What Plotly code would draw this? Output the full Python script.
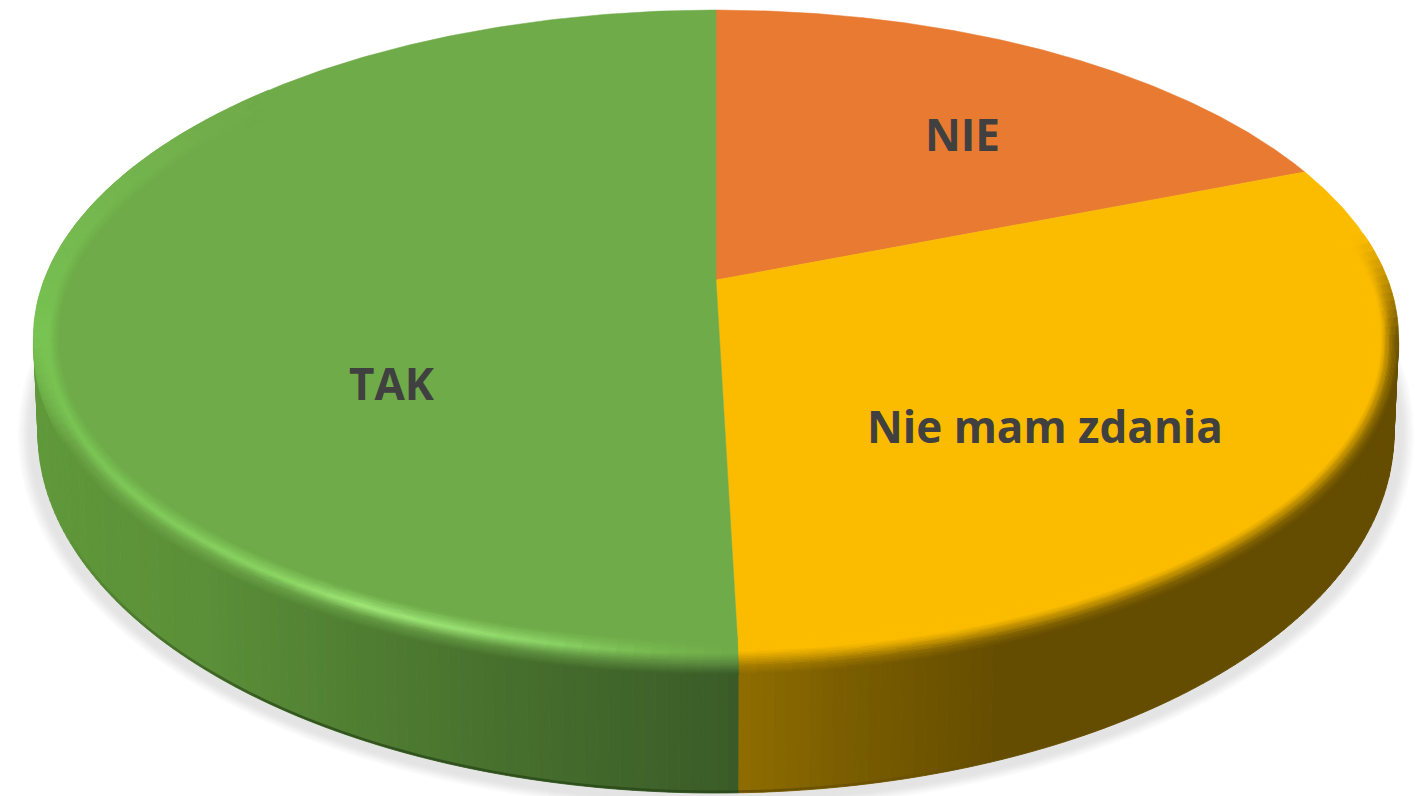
import numpy as np
import plotly.graph_objects as go

# ---- data (percent, clockwise from 12 o'clock) ----
categories = ["NIE", "Nie mam zdania", "TAK"]
values = [19.1, 30.45, 50.45]
face_colors = ["#E97A31", "#FBBC00", "#6FAB49"]
label_x = [962, 1045, 392]
label_y = [134, 426, 383]

# ---- drawing parameters ----
W, H = 1415, 796
CX = 716
TOP_CY, TOP_RX, TOP_RY = 337.5, 682.5, 327.5
BOT_CY, BOT_RX, BOT_RY = 433.0, 678.0, 360.0
APEX_Y = 280.0
K = 0.1757
A = TOP_RX * np.sqrt(1 - K ** 2)
B = TOP_RY * (1 - K ** 2)


def hex2rgb(h):
    return np.array([int(h[i:i + 2], 16) for i in (1, 3, 5)], dtype=float)


def lerp_stops(t, ts, cols):
    arr = np.array([hex2rgb(c) for c in cols])
    return np.array([np.interp(t, ts, arr[:, i]) for i in range(3)])


def to_hex(c, step=1):
    c = np.clip(np.round(np.asarray(c) / step) * step, 0, 255).astype(int)
    return "#%02x%02x%02x" % tuple(c)


def proj(theta, r=1.0):
    """perspective projection of a point on the tilted disc"""
    u, v = np.sin(theta), np.cos(theta)
    w = 1 + K * r * v
    return CX + A * r * u / w, APEX_Y - B * r * v / w


def ell(phi, cy, rx, ry, d=0.0):
    return CX + (rx - d) * np.cos(phi), cy + (ry - d) * np.sin(phi)


def green_side(x):
    return lerp_stops(x, [38, 200, 350, 500, 650, 738],
                      ["#60983A", "#5B8F38", "#507F32", "#47702D", "#3F632A", "#3A5B28"])


def yellow_side(x):
    return lerp_stops(x, [738, 850, 1000, 1400],
                      ["#8F6D00", "#7A5D00", "#654D00", "#654D00"])


def green_ridge(x):
    return lerp_stops(x, [38, 100, 280, 350, 450, 550, 650, 738],
                      ["#78C452", "#7EC958", "#8FD966", "#A0E878", "#9BE374", "#8CD566", "#78BA50", "#6FAB49"])


bins = {}


def add_poly(color, xs, ys):
    b = bins.setdefault(color, ([], []))
    b[0].extend(list(xs) + [xs[0], None])
    b[1].extend(list(ys) + [ys[0], None])


def flush(fig, width=0.6):
    for col, (xs, ys) in bins.items():
        fig.add_trace(go.Scatter(x=xs, y=ys, mode="lines", fill="toself", fillcolor=col,
                                 line=dict(color=col, width=width), hoverinfo="skip", showlegend=False))
    bins.clear()


fig = go.Figure()

# ---- soft shadow under the pie ----
for e in np.arange(22, -1, -2.0):
    t = np.clip((22 - e) / 13, 0, 1)
    c = lerp_stops(t, [0, 1], ["#FFFFFF", "#E4E4E4"])
    p = np.linspace(0, 2 * np.pi, 240)
    add_poly(to_hex(c), CX + (BOT_RX + e) * np.cos(p), BOT_CY + 2 + (BOT_RY + e * 0.75) * np.sin(p))
    flush(fig)

# ---- side wall, in narrow strips ----
frac = np.cumsum([0] + values) / np.sum(values)
phi_seam = np.arccos((proj(2 * np.pi * frac[2])[0] - CX) / TOP_RX)
step = np.radians(1.0)

for p0 in np.arange(phi_seam, np.pi, step):
    p1 = min(p0 + step, np.pi)
    x0, y0 = ell(p0, TOP_CY, TOP_RX, TOP_RY)
    x1, y1 = ell(p1, TOP_CY, TOP_RX, TOP_RY)
    x2, y2 = ell(p1, BOT_CY, BOT_RX, BOT_RY)
    x3, y3 = ell(p0, BOT_CY, BOT_RX, BOT_RY)
    add_poly(to_hex(green_side((x0 + x1) / 2)), [x0, x1, x2, x3], [y0, y1, y2, y3])
for p1 in np.arange(phi_seam, 0, -step):
    p0 = max(p1 - step, 0)
    x0, y0 = ell(p0, TOP_CY, TOP_RX, TOP_RY)
    x1, y1 = ell(p1, TOP_CY, TOP_RX, TOP_RY)
    x2, y2 = ell(p1, BOT_CY, BOT_RX, BOT_RY)
    x3, y3 = ell(p0, BOT_CY, BOT_RX, BOT_RY)
    add_poly(to_hex(yellow_side((x0 + x1) / 2)), [x0, x1, x2, x3], [y0, y1, y2, y3])
flush(fig, 0.9)

# dark lower lip of the wall, fading out towards the left and the right
ph = np.linspace(phi_seam, np.radians(165), 40)
for a0, a1 in zip(ph[:-1], ph[1:]):
    op = 0.75 * np.clip((np.radians(165) - a1) / np.radians(35), 0, 1)
    x, y = ell(np.array([a0, a1]), BOT_CY, BOT_RX, BOT_RY, 1.2)
    fig.add_trace(go.Scatter(x=x, y=y, mode="lines", line=dict(color="rgba(40,70,25,%.2f)" % op, width=2.5),
                             hoverinfo="skip", showlegend=False))
ph = np.linspace(phi_seam, np.radians(65), 12)
for a0, a1 in zip(ph[:-1], ph[1:]):
    op = 0.75 * np.clip((a1 - np.radians(65)) / (phi_seam - np.radians(65)), 0, 1)
    x, y = ell(np.array([a0, a1]), BOT_CY, BOT_RX, BOT_RY, 1.2)
    fig.add_trace(go.Scatter(x=x, y=y, mode="lines", line=dict(color="rgba(90,68,0,%.2f)" % op, width=2.5),
                             hoverinfo="skip", showlegend=False))

# ---- top face: one wedge per category, from the values ----
for i, cat in enumerate(categories):
    th = np.linspace(2 * np.pi * frac[i], 2 * np.pi * frac[i + 1], 300)
    px, py = proj(th)
    fig.add_trace(go.Scatter(x=[CX] + list(px) + [CX], y=[APEX_Y] + list(py) + [APEX_Y],
                             mode="lines", fill="toself", fillcolor=face_colors[i],
                             line=dict(color=face_colors[i], width=0.5), hoverinfo="skip",
                             name=cat, showlegend=False))

# ---- bevel along the rim ----
D_OUT, D_IN = -9.0, 28.0
S = np.linspace(0, 1, 24)
step = np.radians(1.5)
green = hex2rgb(face_colors[2])
yellow = hex2rgb(face_colors[1])
GREEN_END = np.radians(228)
YELLOW_END = np.radians(-18)


def cell(p0, p1, d00, d01, d10, d11, col):
    a = ell(p0, TOP_CY, TOP_RX, TOP_RY, d00)
    b = ell(p1, TOP_CY, TOP_RX, TOP_RY, d10)
    c = ell(p1, TOP_CY, TOP_RX, TOP_RY, d11)
    e = ell(p0, TOP_CY, TOP_RX, TOP_RY, d01)
    add_poly(to_hex(col), [a[0], b[0], c[0], e[0]], [a[1], b[1], c[1], e[1]])


def dout(p):
    return D_OUT * np.clip(np.sin(p) * 2.0, 0, 1)


for p0 in np.arange(phi_seam, GREEN_END, step):
    p1 = p0 + step
    pm = (p0 + p1) / 2
    xm = ell(pm, TOP_CY, TOP_RX, TOP_RY)[0]
    below = np.clip(np.sin(pm) * 3, 0, 1)
    inten = np.clip((GREEN_END - pm) / (GREEN_END - np.pi), 0, 1) ** 1.3
    ridge = green + (green_ridge(xm) - green) * inten
    side = green_side(xm) * below + ridge * (1 - below)
    mid = ((side + green) / 2 + 6 * inten) * below + ridge * (1 - below)
    for s0, s1 in zip(S[:-1], S[1:]):
        sm = (s0 + s1) / 2
        col = np.array([np.interp(sm, [0, 0.30, 0.57, 0.92], [side[i], mid[i], ridge[i], green[i]])
                        for i in range(3)])
        d0a, d0b = dout(p0), dout(p1)
        cell(p0, p1, d0a + s0 * (D_IN - d0a), d0a + s1 * (D_IN - d0a),
             d0b + s0 * (D_IN - d0b), d0b + s1 * (D_IN - d0b), col)
flush(fig)

for p1 in np.arange(phi_seam, YELLOW_END, -step):
    p0 = p1 - step
    pm = (p0 + p1) / 2
    xm = ell(pm, TOP_CY, TOP_RX, TOP_RY)[0]
    fade = np.clip((pm - YELLOW_END) / (-YELLOW_END), 0, 1)
    side = yellow_side(xm) * fade + yellow * (1 - fade)
    for s0, s1 in zip(S[:-1], S[1:]):
        sm = (s0 + s1) / 2
        col = np.array([np.interp(sm, [0, 0.25, 0.62, 1.0],
                                  [side[i], side[i] * 0.75 + yellow[i] * 0.25, yellow[i], yellow[i]])
                        for i in range(3)])
        d0a, d0b = dout(p0), dout(p1)
        cell(p0, p1, d0a + s0 * (D_IN - d0a), d0a + s1 * (D_IN - d0a),
             d0b + s0 * (D_IN - d0b), d0b + s1 * (D_IN - d0b), col)
flush(fig)

# ---- labels ----
annotations = [dict(x=lx, y=ly, text="<b>%s</b>" % cat, showarrow=False, xanchor="center", yanchor="middle",
                    font=dict(family="Open Sans", size=44, color="#404040"))
               for cat, lx, ly in zip(categories, label_x, label_y)]

fig.update_layout(
    width=W, height=H, margin=dict(l=0, r=0, t=0, b=0), autosize=False,
    paper_bgcolor="white", plot_bgcolor="white", showlegend=False, annotations=annotations,
    xaxis=dict(range=[0, W], visible=False, fixedrange=True),
    yaxis=dict(range=[H, 0], visible=False, fixedrange=True),
)
fig.write_html("out.html", config=dict(displayModeBar=False),
               post_script="document.body.style.margin='0';document.documentElement.style.overflow='hidden';")
